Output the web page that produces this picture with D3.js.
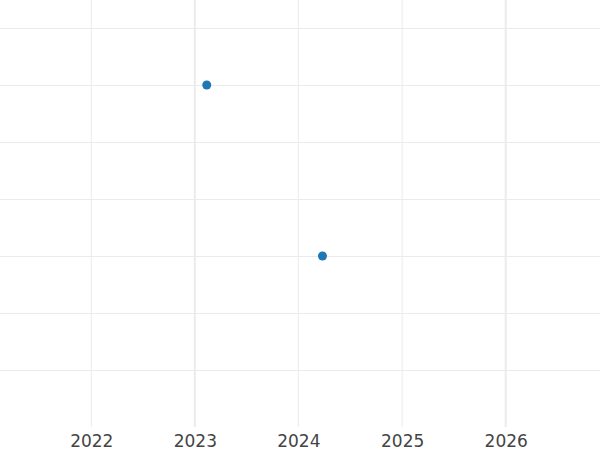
<!DOCTYPE html>
<html><head><meta charset="utf-8">
<script src="https://cdn.jsdelivr.net/npm/d3@7"></script>
<style>body{margin:0;background:#fff}svg{display:block}</style>
</head><body>
<svg id="c" width="600" height="450"></svg>
<script>
const dates = ["2023-02-12", "2024-03-26"];
const values = [6, 3];
const xTickLabels = ["2022", "2023", "2024", "2025", "2026"];
const yTicks = [1, 2, 3, 4, 5, 6, 7];
const boldYears = ["2023", "2026"];

const W = 600, H = 450, plotBottom = 427;
const svg = d3.select("#c");
const parse = d3.timeParse("%Y-%m-%d");
const x = d3.scaleTime()
  .domain([parse("2022-01-01"), parse("2026-01-01")])
  .range([91.3, 505.7]);
const y = d3.scaleLinear().domain([0, 7.49]).range([plotBottom, 0]);

// horizontal grid
svg.append("g").selectAll("line").data(yTicks).join("line")
  .attr("x1", 0).attr("x2", W)
  .attr("y1", d => Math.round(y(d)) + 0.5).attr("y2", d => Math.round(y(d)) + 0.5)
  .attr("stroke", "#ebebeb").attr("stroke-width", 1);

// vertical grid
const tickDates = xTickLabels.map(t => parse(t + "-01-01"));
svg.append("g").selectAll("line").data(tickDates).join("line")
  .attr("x1", d => x(d)).attr("x2", d => x(d))
  .attr("y1", 0).attr("y2", plotBottom)
  .attr("stroke", "#ebebeb")
  .attr("stroke-width", (d, i) => boldYears.includes(xTickLabels[i]) ? 2 : 1);

// x axis labels
const xAxis = d3.axisBottom(x).tickValues(tickDates)
  .tickFormat((d, i) => xTickLabels[i]).tickSize(0).tickPadding(0);
const gx = svg.append("g").attr("transform", `translate(0,${plotBottom})`).call(xAxis);
gx.select(".domain").remove();
gx.selectAll("text")
  .attr("dy", null).attr("y", 20)
  .attr("font-family", "DejaVu Sans, sans-serif")
  .attr("font-size", 17).attr("fill", "#444");

// points
svg.append("g").selectAll("circle").data(dates).join("circle")
  .attr("cx", d => x(parse(d)))
  .attr("cy", (d, i) => y(values[i]))
  .attr("r", 4.5)
  .attr("fill", "#1f77b4");
</script>
</body></html>
